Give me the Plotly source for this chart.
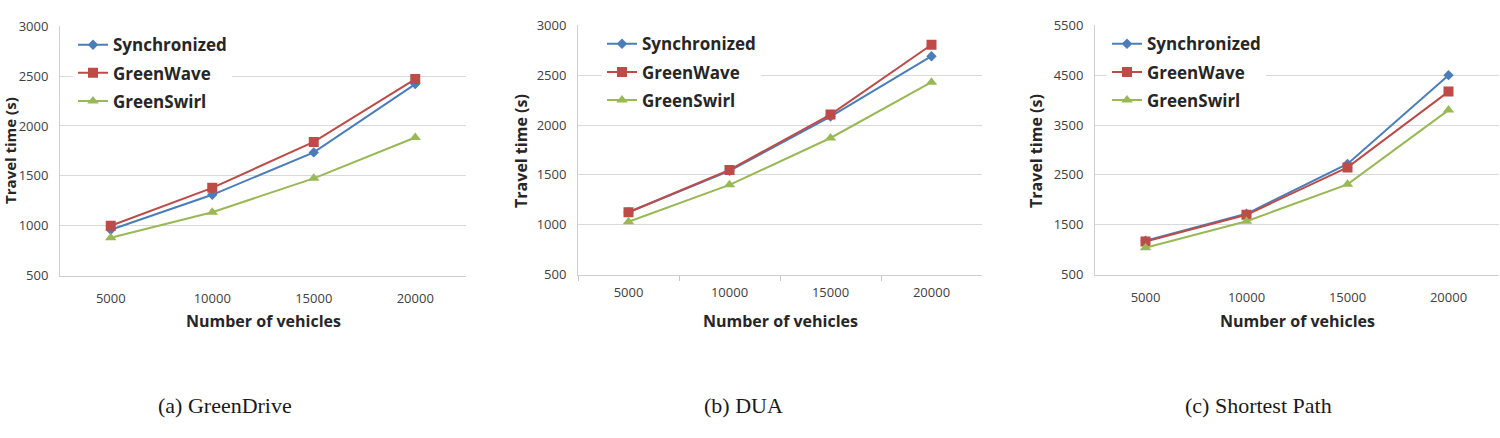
import plotly.graph_objects as go

vehicles = ["5000", "10000", "15000", "20000"]
series_names = ["Synchronized", "GreenWave", "GreenSwirl"]

greendrive_sync = [960, 1310, 1735, 2420]
greendrive_wave = [1000, 1380, 1840, 2470]
greendrive_swirl = [880, 1135, 1475, 1885]

dua_sync = [1125, 1540, 2085, 2690]
dua_wave = [1125, 1550, 2105, 2805]
dua_swirl = [1030, 1400, 1870, 2430]

sp_sync = [1180, 1720, 2720, 4500]
sp_wave = [1165, 1700, 2650, 4170]
sp_swirl = [1040, 1570, 2310, 3800]

ticks_a = [500, 1000, 1500, 2000, 2500, 3000]
ticks_b = [500, 1000, 1500, 2000, 2500, 3000]
ticks_c = [500, 1500, 2500, 3500, 4500, 5500]

captions = ["(a) GreenDrive", "(b) DUA", "(c) Shortest Path"]
x_title = "Number of vehicles"
y_title = "Travel time (s)"

colors = ["#4A7EBB", "#BE4B48", "#98B954"]
symbols = ["diamond", "square", "triangle-up"]
msizes = [8, 10, 10]

W, H = 1500, 438
FONT = "Open Sans"

panels = [
    dict(data=[greendrive_sync, greendrive_wave, greendrive_swirl], ticks=ticks_a,
         x0=60, x1=466, top=18, bot=278, ytx=10, legx=73),
    dict(data=[dua_sync, dua_wave, dua_swirl], ticks=ticks_b,
         x0=578, x1=982, top=17, bot=277, ytx=521, legx=602),
    dict(data=[sp_sync, sp_wave, sp_swirl], ticks=ticks_c,
         x0=1095, x1=1499, top=17, bot=277, ytx=1036, legx=1107),
]

fig = go.Figure()
layout = dict(
    width=W, height=H, margin=dict(l=0, r=0, t=0, b=0),
    paper_bgcolor="white", plot_bgcolor="white", showlegend=True,
)
annotations = []

for i, p in enumerate(panels):
    sfx = "" if i == 0 else str(i + 1)
    legname = "legend" if i == 0 else f"legend{i+1}"
    for j, name in enumerate(series_names):
        fig.add_trace(go.Scatter(
            x=vehicles, y=p["data"][j], name=name, mode="lines+markers",
            line=dict(color=colors[j], width=2),
            marker=dict(symbol=symbols[j], size=msizes[j], color=colors[j]),
            xaxis="x" + sfx, yaxis="y" + sfx, legend=legname,
            legendgroup=f"g{i}{j}",
        ))
    xd = [p["x0"] / W, p["x1"] / W]
    yd = [(H - p["bot"]) / H, (H - p["top"]) / H]
    t = p["ticks"]
    layout["xaxis" + sfx] = dict(
        domain=xd, anchor="y" + sfx, type="category", range=[-0.5, 3.5],
        showgrid=False, showline=True, linecolor="#D0D0D0", linewidth=1,
        ticks="outside" if i == 1 else "", tickson="boundaries", ticklen=5,
        tickcolor="#C8C8C8", ticklabelstandoff=11 if i != 1 else 6,
        tickfont=dict(family=FONT, size=13, color="#404040"),
        fixedrange=True,
    )
    layout["yaxis" + sfx] = dict(
        domain=yd, anchor="x" + sfx, range=[t[0], t[-1]], tickvals=t,
        showgrid=True, gridcolor="#D9D9D9", gridwidth=1,
        showline=True, linecolor="#D0D0D0", linewidth=1, zeroline=False,
        ticks="", ticklabelstandoff=8,
        tickfont=dict(family=FONT, size=13, color="#404040"),
        fixedrange=True,
    )
    layout[legname] = dict(
        x=p["legx"] / W, y=(H - p["top"] - 1) / H, xanchor="left", yanchor="top",
        bgcolor="white", borderwidth=0, tracegroupgap=3,
        font=dict(family=FONT, size=17, color="#262626", weight="bold"),
        itemwidth=30,
    )
    # axis titles
    annotations.append(dict(
        text=x_title, xref="paper", yref="paper",
        x=(p["x0"] + p["x1"]) / 2 / W, y=(H - 325) / H,
        xanchor="center", yanchor="middle", showarrow=False,
        font=dict(family=FONT, size=16, color="#262626", weight="bold"),
    ))
    annotations.append(dict(
        text=y_title, xref="paper", yref="paper", textangle=-90,
        x=p["ytx"] / W, y=(H - 148) / H,
        xanchor="center", yanchor="middle", showarrow=False,
        font=dict(family=FONT, size=15 if i == 0 else 16, color="#262626", weight="bold"),
    ))

cap_x = [225, 743, 1258]
for k, c in enumerate(captions):
    annotations.append(dict(
        text=c, xref="paper", yref="paper", x=cap_x[k] / W, y=(H - 414) / H,
        xanchor="center", yanchor="middle", showarrow=False,
        font=dict(family="Liberation Serif", size=22, color="#1a1a1a"),
    ))

layout["annotations"] = annotations
fig.update_layout(**layout)
fig.write_html("out.html")
